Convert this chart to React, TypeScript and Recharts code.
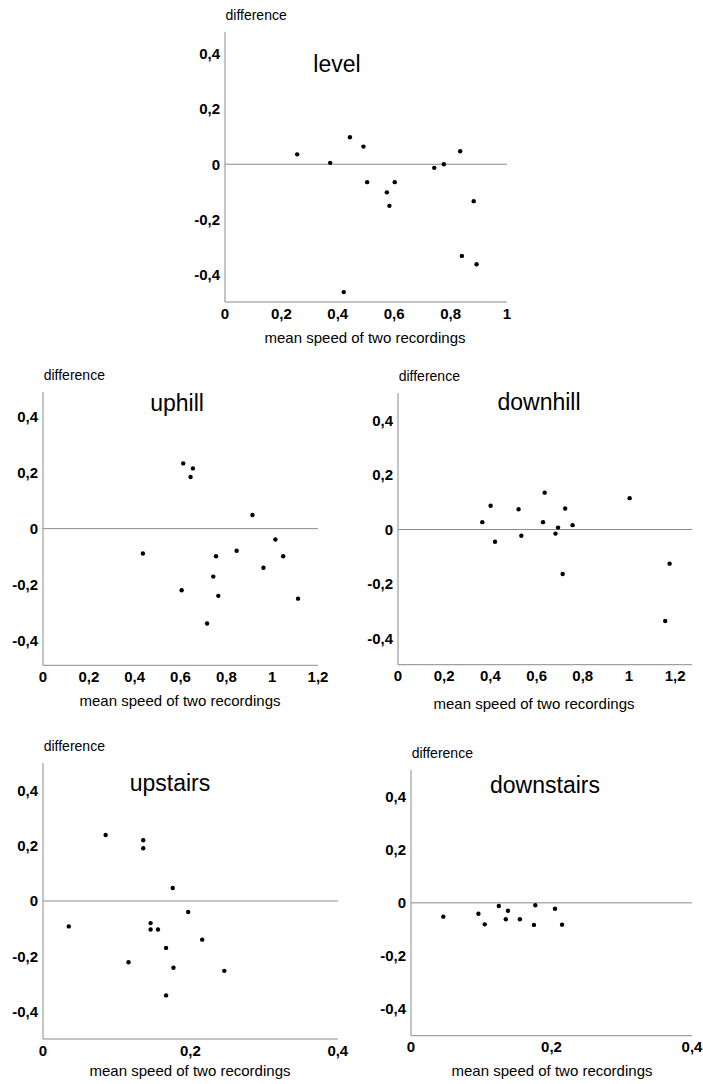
import { ScatterChart, Scatter, XAxis, YAxis, ReferenceLine } from "recharts";

// values: x = mean speed, y = difference
const levelX = [0.256, 0.373, 0.443, 0.491, 0.504, 0.574, 0.583, 0.602, 0.421, 0.742, 0.776, 0.834, 0.84, 0.882, 0.892];
const levelY = [0.036, 0.005, 0.098, 0.064, -0.065, -0.102, -0.151, -0.065, -0.464, -0.013, 0.0, 0.047, -0.333, -0.134, -0.363];

const uphillX = [0.436, 0.612, 0.644, 0.654, 0.605, 0.716, 0.743, 0.755, 0.765, 0.845, 0.914, 0.962, 1.014, 1.048, 1.113];
const uphillY = [-0.089, 0.234, 0.185, 0.216, -0.221, -0.34, -0.172, -0.099, -0.241, -0.079, 0.049, -0.14, -0.039, -0.099, -0.251];

const downhillX = [0.365, 0.401, 0.42, 0.522, 0.534, 0.628, 0.635, 0.682, 0.693, 0.713, 0.724, 0.756, 1.003, 1.157, 1.176];
const downhillY = [0.027, 0.087, -0.045, 0.074, -0.023, 0.027, 0.135, -0.015, 0.007, -0.163, 0.077, 0.016, 0.115, -0.335, -0.125];

const upstairsX = [0.035, 0.085, 0.116, 0.136, 0.136, 0.146, 0.146, 0.156, 0.167, 0.167, 0.176, 0.177, 0.197, 0.216, 0.246];
const upstairsY = [-0.092, 0.239, -0.222, 0.22, 0.191, -0.08, -0.103, -0.103, -0.17, -0.342, 0.047, -0.242, -0.04, -0.14, -0.253];

const downstairsX = [0.046, 0.096, 0.105, 0.125, 0.135, 0.138, 0.155, 0.175, 0.177, 0.205, 0.215];
const downstairsY = [-0.052, -0.041, -0.081, -0.012, -0.062, -0.03, -0.062, -0.083, -0.009, -0.022, -0.082];

const diffTicks = [-0.4, -0.2, 0, 0.2, 0.4];
const speedTicksWide = [0, 0.2, 0.4, 0.6, 0.8, 1, 1.2];
const speedTicksLevel = [0, 0.2, 0.4, 0.6, 0.8, 1];
const speedTicksStairs = [0, 0.2, 0.4];

const AXIS = "#8a8a8a";
const FONT = "'Liberation Sans', Arial, sans-serif";
const fmt = (v: number) => String(v).replace(".", ",");

const Dot = (props: any) => <circle cx={props.cx} cy={props.cy} r={2.2} fill="#000" />;

interface PanelProps {
  title: string;
  xs: number[];
  ys: number[];
  xDomain: [number, number];
  yDomain: [number, number];
  xTicks: number[];
  plotLeft: number;
  plotTop: number;
  plotW: number;
  plotH: number;
  titleX: number;
  titleY: number;
  labelX: number;
  labelY: number;
}

function Panel(p: PanelProps) {
  const data = p.xs.map((x, i) => ({ x, y: p.ys[i] }));
  const yw = 60;
  const mt = 10;
  const mr = 14;
  const xh = 30;
  const tickStyle = { fill: "#000", fontSize: 15, fontWeight: "bold", fontFamily: FONT };
  return (
    <>
      <div style={{ position: "absolute", left: p.plotLeft - yw, top: p.plotTop - mt }}>
        <ScatterChart
          width={yw + p.plotW + mr}
          height={mt + p.plotH + xh}
          margin={{ top: mt, right: mr, bottom: 0, left: 0 }}
        >
          <XAxis
            type="number"
            dataKey="x"
            domain={p.xDomain}
            ticks={p.xTicks}
            interval={0}
            allowDataOverflow
            tickFormatter={fmt}
            tickLine={false}
            tickSize={5}
            tickMargin={1}
            height={xh}
            axisLine={{ stroke: AXIS }}
            tick={tickStyle}
          />
          <YAxis
            type="number"
            dataKey="y"
            domain={p.yDomain}
            ticks={diffTicks}
            interval={0}
            allowDataOverflow
            tickFormatter={fmt}
            tickLine={false}
            tickSize={3}
            tickMargin={2}
            width={yw}
            axisLine={{ stroke: AXIS }}
            tick={tickStyle}
          />
          <ReferenceLine y={0} stroke={AXIS} />
          <Scatter data={data} shape={Dot} isAnimationActive={false} />
        </ScatterChart>
      </div>
      <div
        style={{
          position: "absolute",
          left: p.plotLeft + 1,
          top: p.plotTop - 17,
          transform: "translateY(-50%)",
          fontSize: 14,
          lineHeight: 1,
          whiteSpace: "nowrap",
        }}
      >
        difference
      </div>
      <div
        style={{
          position: "absolute",
          left: p.titleX,
          top: p.titleY,
          transform: "translate(-50%, -50%)",
          fontSize: 23,
          lineHeight: 1,
          whiteSpace: "nowrap",
        }}
      >
        {p.title}
      </div>
      <div
        style={{
          position: "absolute",
          left: p.labelX,
          top: p.labelY,
          transform: "translate(-50%, -50%)",
          fontSize: 15,
          lineHeight: 1,
          whiteSpace: "nowrap",
        }}
      >
        mean speed of two recordings
      </div>
    </>
  );
}

export default function App() {
  return (
    <div
      style={{
        position: "absolute",
        left: 0,
        top: 0,
        width: 703,
        height: 1084,
        overflow: "hidden",
        background: "#fff",
        fontFamily: FONT,
        color: "#000",
      }}
    >
      <Panel
        title="level"
        xs={levelX}
        ys={levelY}
        xDomain={[0, 1]}
        yDomain={[-0.5, 0.48]}
        xTicks={speedTicksLevel}
        plotLeft={224.5}
        plotTop={32}
        plotW={282}
        plotH={270}
        titleX={337}
        titleY={64}
        labelX={365}
        labelY={337}
      />
      <Panel
        title="uphill"
        xs={uphillX}
        ys={uphillY}
        xDomain={[0, 1.2]}
        yDomain={[-0.49, 0.49]}
        xTicks={speedTicksWide}
        plotLeft={42.7}
        plotTop={391.7}
        plotW={275}
        plotH={273.3}
        titleX={177}
        titleY={403}
        labelX={180}
        labelY={700}
      />
      <Panel
        title="downhill"
        xs={downhillX}
        ys={downhillY}
        xDomain={[0, 1.273]}
        yDomain={[-0.495, 0.5]}
        xTicks={speedTicksWide}
        plotLeft={397.7}
        plotTop={393.3}
        plotW={294}
        plotH={271.7}
        titleX={539}
        titleY={402}
        labelX={534}
        labelY={703}
      />
      <Panel
        title="upstairs"
        xs={upstairsX}
        ys={upstairsY}
        xDomain={[0, 0.4]}
        yDomain={[-0.5, 0.5]}
        xTicks={speedTicksStairs}
        plotLeft={42.7}
        plotTop={763.3}
        plotW={294.8}
        plotH={276}
        titleX={170}
        titleY={783}
        labelX={190}
        labelY={1070}
      />
      <Panel
        title="downstairs"
        xs={downstairsX}
        ys={downstairsY}
        xDomain={[0, 0.4]}
        yDomain={[-0.5, 0.5]}
        xTicks={speedTicksStairs}
        plotLeft={410.7}
        plotTop={770}
        plotW={281}
        plotH={265.7}
        titleX={545}
        titleY={785}
        labelX={552}
        labelY={1070}
      />
    </div>
  );
}
